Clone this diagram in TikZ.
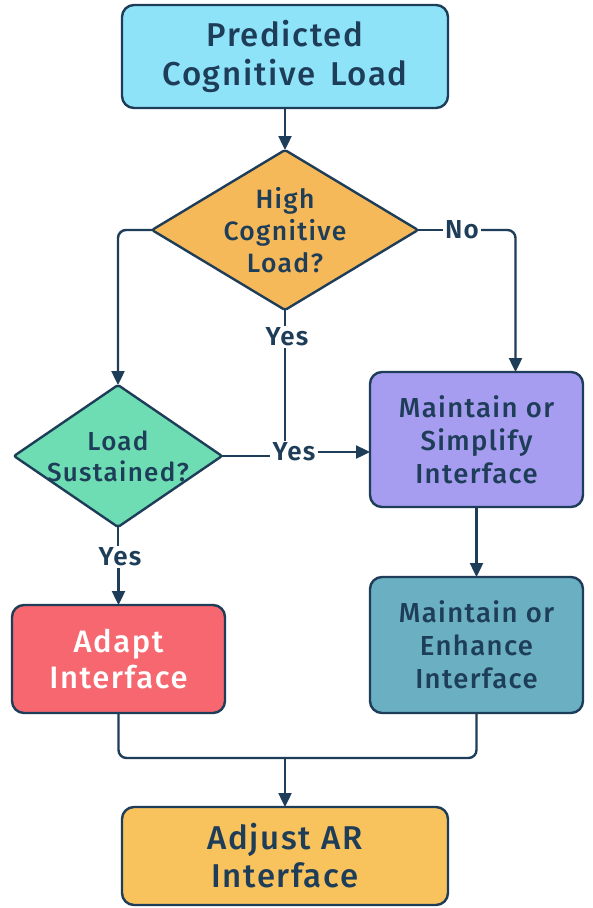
\documentclass[tikz,border=0pt]{standalone}
\usepackage{fontspec}
\setmainfont{Fira Sans}[UprightFont={* Medium}, BoldFont={* SemiBold}, LetterSpace=5]
\usetikzlibrary{shapes.geometric,arrows.meta}
\definecolor{navy}{HTML}{1E3D58}
\definecolor{cyanf}{HTML}{8FE3F9}
\definecolor{orangef}{HTML}{F6B95A}
\definecolor{mintf}{HTML}{6FDDB4}
\definecolor{purplef}{HTML}{A69CF0}
\definecolor{tealf}{HTML}{6BAFC3}
\definecolor{redf}{HTML}{F6676F}
\definecolor{yellowf}{HTML}{F8C25C}
\tikzset{
  box/.style={draw=navy, line width=2.4pt, rounded corners=12pt, align=center, text=navy, inner sep=0pt, outer sep=0pt},
  dia/.style={draw=navy, line width=2.4pt, diamond, inner sep=0pt, outer sep=0pt, rounded corners=2pt},
  dtext/.style={align=center, text=navy, inner sep=0pt},
  lbl/.style={text=navy, inner sep=2pt, font=\bfseries\fontsize{26}{26}\selectfont},
  conn/.style={draw=navy, line width=2.4pt, rounded corners=8pt},
  arr/.style={conn, -{Triangle[length=14pt,width=13pt]}}
}
\begin{document}
\begin{tikzpicture}[x=1pt,y=-1pt]
\useasboundingbox[fill=white] (0,0) rectangle (592,908);
% nodes
\node[box, fill=cyanf, minimum width=326pt, minimum height=103pt, font=\fontsize{33}{39}\selectfont] (top) at (285,56.5) {Predicted\\Cognitive\hspace{0.15em} Load};
\node[dia, fill=orangef, minimum width=266pt, minimum height=160pt] (d1) at (285,230) {};
\node[dtext, font=\fontsize{26.5}{32}\selectfont] (t1) at (d1.center) {High\\Cognitive\\Load?};
\node[dia, fill=mintf, minimum width=208pt, minimum height=142pt] (d2) at (118,456) {};
\node[dtext, font=\fontsize{26}{31}\selectfont] (t2) at (d2.center) {Load\\Sustained?};
\node[box, fill=purplef, minimum width=213pt, minimum height=135pt, font=\fontsize{27.5}{33}\selectfont] (b2) at (476.5,439.5) {Maintain or\\Simplify\\Interface};
\node[box, fill=tealf, minimum width=213pt, minimum height=136pt, font=\fontsize{27.5}{33}\selectfont] (b3) at (476.5,645) {Maintain or\\Enhance\\Interface};
\node[box, fill=redf, text=white, minimum width=213pt, minimum height=108pt, font=\fontsize{31}{36}\selectfont] (adapt) at (118.5,659) {Adapt\\Interface};
\node[box, fill=yellowf, minimum width=326pt, minimum height=98pt, font=\fontsize{33}{38}\selectfont] (final) at (285,856) {Adjust AR\\Interface};
% labels
\node[lbl] (no) at (462,230) {No};
\node[lbl] (yes1) at (287,337) {Yes};
\node[lbl] (yes2) at (294,452) {Yes};
\node[lbl] (yes3) at (120,557) {Yes};
\coordinate (j) at (285,758);
% connectors
\draw[arr] (top) -- (d1.north);
\draw[arr] (d1.west) -| (d2.north);
\draw[conn] (d1.east) -- (no.west);
\draw[arr] (no.east) -| ([xshift=39pt]b2.north);
\draw[conn] (d1.south) -- (d1.south |- yes1.north);
\draw[conn] (d1.south |- yes1.south) -- (d1.south |- yes2.north);
\draw[conn] (d2.east) -- (d2.east -| yes2.west);
\draw[arr] (yes2.east) -- (yes2.east -| b2.west);
\draw[arr] (b2) -- (b3);
\draw[conn] (d2.south) -- (yes3.north -| d2.south);
\draw[arr] (yes3.south -| adapt.north) -- (adapt.north);
\draw[conn] (adapt.south) |- (j) -| (b3.south);
\draw[arr] (j) -- (final.north);
\end{tikzpicture}
\end{document}
